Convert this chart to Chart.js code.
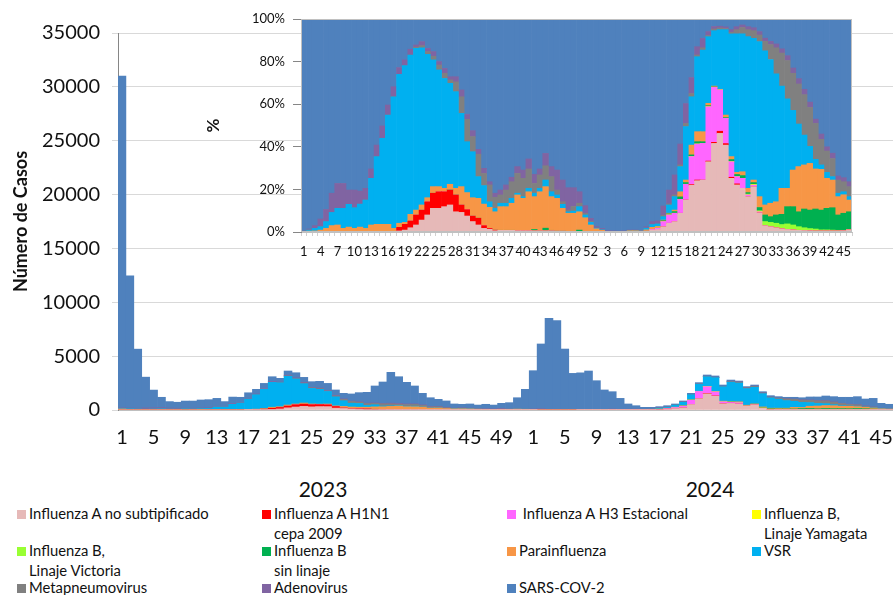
<!DOCTYPE html>
<html>
<head>
<meta charset="utf-8">
<script src="https://cdn.jsdelivr.net/npm/chart.js@4.4.1/dist/chart.umd.min.js"></script>
<style>
  body { margin: 0; background: #fff; font-family: Lato, "Open Sans", sans-serif; color: #111; }
  #marco { position: relative; width: 893px; height: 595px; overflow: hidden; }
  #principal { position: absolute; left: 0; top: 0; }
  #inserto { position: absolute; left: 200px; top: 0; }
  .anio { position: absolute; top: 488px; font-size: 21px; transform: translate(-50%, -50%); }
  .item { position: absolute; font-size: 14.8px; line-height: 19.5px; white-space: pre; }
  .caja { position: absolute; width: 9px; height: 9px; }
</style>
</head>
<body>
<div id="marco">
  <canvas id="principal" width="893" height="470"></canvas>
  <canvas id="inserto" width="660" height="270"></canvas>
  <div class="anio" style="left:323px">2023</div>
  <div class="anio" style="left:710px">2024</div>
  <div id="leyenda"></div>
</div>
<script>
// semanas epidemiologicas 2023 (1-52) y 2024 (1-46)
const semanas2023 = [1,2,3,4,5,6,7,8,9,10,11,12,13,14,15,16,17,18,19,20,21,22,23,24,25,26,
  27,28,29,30,31,32,33,34,35,36,37,38,39,40,41,42,43,44,45,46,47,48,49,50,51,52];
const semanas2024 = [1,2,3,4,5,6,7,8,9,10,11,12,13,14,15,16,17,18,19,20,21,22,23,
  24,25,26,27,28,29,30,31,32,33,34,35,36,37,38,39,40,41,42,43,44,45,46];
const semanas = semanas2023.concat(semanas2024);

// total de casos por semana (grafico principal)
const totalCasos = [
  31000,12450,5650,3050,1850,1180,780,720,830,830,930,960,1080,780,1200,1180,1600,1920,2470,3090,
  2940,3620,3460,3030,2630,2660,2470,1860,1550,1490,1610,1640,2230,2600,3500,3090,2570,2230,1550,1140,
  990,840,560,530,560,460,530,460,620,680,1140,1920,
  3650,6130,8500,8290,5660,3400,3450,3620,2720,1860,1700,1080,560,400,250,250,310,400,560,840,
  1550,2540,3250,3160,2320,2780,2690,2170,2320,1700,1330,1240,1180,1180,1140,1210,1210,1300,1240,1180,
  1180,1240,1020,1080,620,530
];

// porcentaje de cada virus por semana (grafico insertado)
const pctFluANoSub = [
  0,0,0,0,0,0,0,0,0,0,0,0,0,0,0,0,
  0.3,0.5,0.9,2.0,3.3,5.6,8.0,11.1,11.1,11.9,12.7,9.5,9.2,7.5,4.9,3.3,1.7,1.3,0.6,0.8,
  0.8,0.8,0.6,0.6,0.6,0.5,0.5,0.5,0.5,0.4,0.4,0.3,0.3,0.3,0.2,0.2,
  0.1,0,0,0,0,0,0.3,0.3,0.2,0.4,0.8,1.2,2.5,4.1,4.9,8.8,15.0,22.0,24.1,24.4,
  33.0,41.6,46.3,40.8,25.2,22.1,20.5,16.6,21.3,9.0,3.0,2.5,2.0,1.5,1.2,1.0,0.8,0.7,0.6,0.5,
  0.5,0.5,0.5,0.5,0.6,1.0
];
const pctH1N1 = [
  0,0,0,0,0,0,0,0,0,0,0,0,0,0,0,0,0,
  1.7,2.7,3.2,4.7,4.7,6.2,7.1,7.8,7.0,7.0,7.9,3.5,3.0,2.6,3.2,1.3,0.4,0.3,
  0,0,0,0,0,0,0,0,0,0,0,0,0,0,0,0,0,
  0,0,0,0,0,0,0,0,0,0,0,0,0,0,0,0,0,
  0.3,0.3,0,0.3,0.5,1.0,0.7,0.5,0.5,
  0,0,0,0,0,0,0,0,0,0,0,0,0,0,0,0,0,0,0,0
];
const pctH3 = [
  0,0,0,0,0,0,0,0,0,0,0,0,0,0,0,0,0,0,0,0,0,0,0,0,0,0,
  0,0,0,0,0,0,0,0,0,0,0,0,0,0,0,0,0,0,0,0,0,0,0,0,0,0,
  0,0,0,0,0,0,0,0,0,0,
  0.4,0.6,2.4,3.9,3.9,6.5,7.4,13.1,16.9,17.2,25.5,25.8,19.4,11.9,7.3,3.4,4.7,0.8,0.7,0.5,
  0,0,0,0,0,0,0,0,0,0,0,0,0,0,0,0
];
const pctYamagata = [
  0,0,0,0,0,0,0,0,0,0,0,0,0,0,0,0,0,0,0,0,0,0,0,0,0,0,
  0,0,0,0,0,0,0,0,0,0,0,0,0,0,0,0,0,0,0,0,0,0,0,0,0,0,
  0,0,0,0,0,0,0,0,0,0,0,0,0,0,0,0,0,0,0,0,0,0,0,0,0,0,0,0,
  0.2,0.2,
  0,0,0,0,0,0,0,0,0,0,0,0,0,0,0,0
];
const pctVictoria = [
  0,0,0,0,0,0,0,0,0,0,0.3,0,0,0,0,0,0,0,0,0,0,0,0,0,0,0,
  0,0,0,0,0,0,0,0,0,0,0,0,0,0,0,0,0,0,0,0,0,0,0,0,0,0,
  0,0,0,0,0,0,0,0,0,0,0,0,0,0,0,0,0,0,0,0,0,0,0,0,0,0,0,
  0.4,0.2,0.3,
  1.9,2.0,2.1,2.0,2.6,2.3,1.7,1.3,1.0,0.9,0.5,0.5,0.4,0.3,0.2,0.2
];
const pctSinLinaje = [
  0,0,0,0,0,0,0,0,0.3,0,0,0,0,0,0,0,0,0,0,0,0,0,0,0,0,0,
  0.3,0.3,0,0,0,0,0,0,0,0,0,0,0,0,0,0.7,0,1.3,0.3,0,0,0,0,0.6,0,0,
  0,0,0,0,0,0,0,0,0,0,0,0,
  0.4,0.5,0.8,1.2,0.8,0.8,1.1,0.8,0.5,0.2,
  0,0.4,1.0,1.0,1.3,0.7,0.8,1.5,3.1,2.7,
  3.9,4.8,8.1,8.6,7.0,8.8,8.7,9.4,9.3,10.1,
  10.5,7.2,8.0,8.3
];
const pctParainfluenza = [
  0.3,0.4,0.5,0.9,1.7,3.0,3.3,1.7,2.0,1.7,2.0,1.7,3.3,3.6,3.6,3.6,1.4,1.9,0.9,3.1,
  2.3,2.4,1.9,3.1,2.4,1.6,2.4,2.8,8.6,8.0,8.6,9.3,10.1,9.9,8.6,11.1,11.1,12.7,16.8,15.2,
  18.3,15.4,18.4,19.5,15.8,15.4,10.7,8.5,8.5,8.6,6.5,3.1,
  1.4,0.8,0.3,0.2,0.2,0.2,0.3,0.3,0.2,0.6,1.0,0.8,0.3,0.3,0.7,2.4,1.2,4.6,4.7,4.7,
  1.1,0.4,0.3,1.1,1.4,1.0,1.8,2.0,1.2,5.1,4.7,6.3,6.2,12.2,8.6,17.2,21.2,20.7,21.9,18.8,
  19.1,14.1,13.0,8.6,8.7,5.5
];
const pctVSR = [
  0.1,0.5,1.2,1.6,3.2,6.2,7.8,9.4,10.7,9.7,10.8,13.3,21.9,31.8,40.4,51.3,61.8,69.9,73.6,74.8,
  75.9,73.8,67.3,59.5,54.8,51.6,47.4,45.4,34.4,23.9,21.6,10.2,8.7,2.6,1.6,1.6,1.6,2.3,0.8,0.8,
  1.6,1.6,1.6,3.1,2.3,1.6,1.9,0.7,1.0,2.4,1.3,1.2,
  0.3,0.2,0,0,0,0.1,0,0,0,0.8,1.3,1.2,1.6,3.9,6.3,11.8,25.1,22.7,35.2,38.3,
  31.3,26.0,28.0,40.1,57.6,65.0,64.7,71.2,66.5,72.8,72.3,67.5,60.0,48.0,42.0,28.0,20.0,14.0,8.0,4.5,
  2.1,2.8,1.6,1.6,1.4,1.6
];
const pctMetapneumo = [
  0,0,0,0,0,0,0,0,0,0,0,0,0,0,0,0,0,0,0,0,
  0.6,1.0,1.3,1.7,2.3,2.4,1.6,4.6,7.8,10.5,7.1,10.5,5.7,7.9,5.2,3.9,6.2,7.8,9.3,8.6,
  9.1,4.6,6.3,6.7,7.1,2.3,1.2,0.8,2.2,1.6,0.8,0.5,
  0,0,0,0,0,0,0,0,0,0,0,0,
  0.6,0.5,0.8,0.8,1.5,1.5,0.8,1.1,0.6,0.8,
  0.8,0.5,0.8,2.0,3.0,3.3,3.6,3.1,4.5,7.0,
  12.3,15.5,18.0,17.4,18.8,19.0,18.3,16.9,12.0,10.0,
  8.5,6.2,4.7,4.7
];
const pctAdenovirus = [
  0.2,0.5,1.3,3.6,5.7,9.0,11.7,11.7,6.7,8.3,6.1,5.5,4.4,5.4,5.8,4.7,4.7,3.2,2.7,2.7,
  1.0,1.9,1.5,2.2,1.6,2.3,1.5,2.4,3.2,2.3,2.8,2.3,2.4,1.5,1.9,2.3,2.4,2.1,3.2,3.9,
  4.7,4.3,2.8,5.8,4.7,9.4,10.2,10.5,8.8,5.4,3.6,1.4,
  0.7,0.7,0.3,0.3,0.2,0.2,0.3,0.3,0.2,0.7,1.4,1.4,4.4,6.5,9.4,9.8,9.3,7.5,3.9,4.4,
  1.8,1.2,0.8,0.8,1.2,1.4,1.2,1.4,1.4,1.6,1.5,1.5,1.8,2.0,2.3,2.5,2.5,2.5,2.5,2.0,
  2.5,2.0,2.5,1.9,1.9,2.3
];
const pctSarsCov2 = [
  99.4,98.6,97.0,93.9,89.4,81.8,77.2,77.2,80.3,80.3,80.8,79.5,70.4,59.2,50.2,40.4,31.8,22.8,19.2,14.2,
  12.2,10.6,13.8,15.3,20.0,23.2,27.1,27.1,33.3,44.8,52.4,61.2,70.1,76.4,81.8,80.3,77.9,74.3,69.3,70.9,
  65.7,72.9,70.4,63.1,69.3,70.9,75.6,79.2,79.2,81.1,87.6,93.6,
  97.5,98.3,99.4,99.5,99.6,99.5,99.1,99.1,99.4,97.5,95.1,94.8,87.8,80.3,73.2,58.7,39.7,27.5,13.0,9.1,
  5.9,3.5,3.4,3.7,5.0,3.6,2.8,3.6,4.1,5.9,9.0,10.5,11.7,14.0,17.2,23.0,28.0,33.0,39.0,47.0,
  54.0,60.0,63.0,73.7,74.5,76.4
];

const nombres = [
  'Influenza A no subtipificado', 'Influenza A H1N1\ncepa 2009', ' Influenza A H3 Estacional',
  'Influenza B,\nLinaje Yamagata', 'Influenza B,\nLinaje Victoria', 'Influenza B\nsin linaje',
  'Parainfluenza', 'VSR', 'Metapneumovirus', 'Adenovirus', 'SARS-COV-2'
];
const colores = ['#E6B9B8', '#FF0000', '#FF66FF', '#FFFF00', '#99FF33', '#00B050',
  '#F79646', '#00B0F0', '#808080', '#8064A2', '#4F81BD'];
const porcentajes = [pctFluANoSub, pctH1N1, pctH3, pctYamagata, pctVictoria, pctSinLinaje,
  pctParainfluenza, pctVSR, pctMetapneumo, pctAdenovirus, pctSarsCov2];

Chart.defaults.font.family = 'Lato';
Chart.defaults.color = '#111';

// marco gris alrededor del area del grafico insertado
const marcoArea = {
  id: 'marcoArea',
  afterDraw(chart) {
    const a = chart.chartArea, ctx = chart.ctx;
    ctx.save();
    ctx.strokeStyle = '#c0c0c0';
    ctx.lineWidth = 1;
    ctx.strokeRect(a.left + 0.5, a.top + 0.5, a.right - a.left - 1, a.bottom - a.top - 1);
    ctx.restore();
  }
};

// sin relleno lateral por las etiquetas del eje x
function ajusteX(alto) {
  return s => { s.height = alto; s.paddingLeft = 0; s.paddingRight = 0; };
}

function dibujar() {
  new Chart(document.getElementById('principal'), {
    type: 'bar',
    data: {
      labels: semanas,
      datasets: nombres.map((n, k) => ({
        label: n,
        data: totalCasos.map((t, i) => t * porcentajes[k][i] / 100),
        backgroundColor: colores[k],
        borderWidth: 0,
        barPercentage: 1,
        categoryPercentage: 1
      }))
    },
    options: {
      responsive: false,
      animation: false,
      layout: { padding: { top: 33, right: 0, left: 0, bottom: 0 } },
      plugins: { legend: { display: false }, tooltip: { enabled: false } },
      scales: {
        x: {
          stacked: true,
          grid: { display: false, drawTicks: false },
          border: { color: '#bfbfbf' },
          ticks: {
            autoSkip: false, maxRotation: 0, padding: 16,
            font: { size: 20 },
            callback: (v, i) => (i % 4 === 0 ? semanas[i] : '')
          },
          afterFit: ajusteX(60)
        },
        y: {
          stacked: true,
          min: 0, max: 35000,
          ticks: { stepSize: 5000, padding: 12, font: { size: 20 }, callback: v => String(v) },
          grid: { color: '#d9d9d9', tickLength: 6 },
          border: { color: '#868686' },
          title: {
            display: true, text: 'Número de Casos',
            font: { size: 18, weight: 'bold' }, padding: { top: 10, bottom: 0 }
          },
          afterFit: s => { s.width = 118; }
        }
      }
    }
  });

  new Chart(document.getElementById('inserto'), {
    type: 'bar',
    data: {
      labels: semanas,
      datasets: nombres.map((n, k) => ({
        label: n,
        data: porcentajes[k],
        backgroundColor: colores[k],
        borderWidth: 0,
        barPercentage: 1,
        categoryPercentage: 1
      }))
    },
    options: {
      responsive: false,
      animation: false,
      layout: { padding: { top: 19, right: 8, left: 0, bottom: 0 } },
      plugins: { legend: { display: false }, tooltip: { enabled: false } },
      scales: {
        x: {
          stacked: true,
          grid: { drawOnChartArea: false, tickLength: 4, color: '#d0d0d0' },
          border: { color: '#c0c0c0' },
          ticks: {
            autoSkip: false, maxRotation: 0, padding: 8,
            font: { size: 13 },
            callback: (v, i) => (i % 3 === 0 ? semanas[i] : '')
          },
          afterFit: ajusteX(38)
        },
        y: {
          stacked: true,
          min: 0, max: 100,
          ticks: { stepSize: 20, padding: 8, font: { size: 13 }, callback: v => v + '%' },
          grid: { drawOnChartArea: false, tickLength: 8, color: '#868686' },
          border: { color: '#868686' },
          title: {
            display: true, text: '%',
            font: { size: 17, weight: 'bold' }, padding: { top: 3, bottom: 0 }
          },
          afterFit: s => { s.width = 101; }
        }
      }
    },
    plugins: [marcoArea]
  });

  // leyenda en cuatro columnas
  const colX = [17, 262, 507, 752];
  const filaY = [504, 541, 578];
  const ley = document.getElementById('leyenda');
  nombres.forEach((n, k) => {
    const x = colX[k % 4], y = filaY[Math.floor(k / 4)];
    const caja = document.createElement('div');
    caja.className = 'caja';
    caja.style.left = x + 'px';
    caja.style.top = (y + 5.5) + 'px';
    caja.style.background = colores[k];
    ley.appendChild(caja);
    const t = document.createElement('div');
    t.className = 'item';
    t.style.left = (x + 12) + 'px';
    t.style.top = y + 'px';
    t.textContent = n;
    ley.appendChild(t);
  });
}

document.fonts.load('20px Lato').then(dibujar, dibujar);
</script>
</body>
</html>
